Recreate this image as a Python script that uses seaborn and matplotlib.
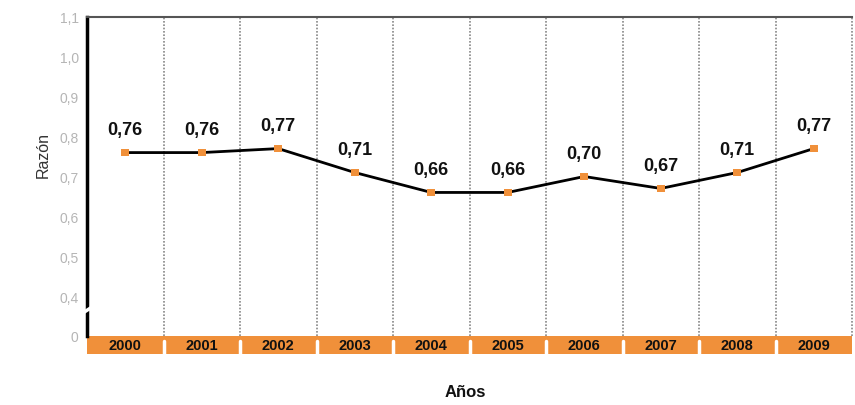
import pandas as pd
import seaborn as sns
import matplotlib.pyplot as plt
from matplotlib.patches import Rectangle

# data
years = ['2000', '2001', '2002', '2003', '2004', '2005', '2006', '2007', '2008', '2009']
ratio = [0.76, 0.76, 0.77, 0.71, 0.66, 0.66, 0.70, 0.67, 0.71, 0.77]
ytick_vals = [0.3, 0.4, 0.5, 0.6, 0.7, 0.8, 0.9, 1.0, 1.1]
ytick_labels = ['0', '0,4', '0,5', '0,6', '0,7', '0,8', '0,9', '1,0', '1,1']

orange = '#F0903A'

sns.set_style('white')
plt.rcParams['font.family'] = ['Liberation Sans', 'DejaVu Sans']

df = pd.DataFrame({'year': years, 'ratio': ratio})

fig = plt.figure(figsize=(8.55, 4.06), dpi=100)
ax = fig.add_axes([87 / 855, 1 - 337 / 406, 765 / 855, 319 / 406])

sns.lineplot(data=df, x='year', y='ratio', color='black', linewidth=2, ax=ax, zorder=3)
sns.scatterplot(data=df, x='year', y='ratio', marker='s', color=orange, s=30,
                edgecolor='none', ax=ax, zorder=4)

# value labels
for i, v in enumerate(ratio):
    ax.annotate(f'{v:.2f}'.replace('.', ','), (i, v), xytext=(0, 16.5),
                textcoords='offset points', ha='center', va='center',
                fontsize=13, fontweight='bold', color='#111111')

ax.set_xlim(-0.5, len(years) - 0.5)
ax.set_ylim(0.3, 1.1)

# dotted separators between years
for b in range(len(years)):
    ax.axvline(b + 0.5, color='#888888', linestyle=(0, (1, 1)), linewidth=1.2,
               zorder=1, clip_on=False)

# orange band with year labels
xt = ax.get_xaxis_transform()
for i in range(len(years)):
    ax.add_patch(Rectangle((i - 0.5, -0.057), 1, 0.057, transform=xt,
                           facecolor=orange, edgecolor='none', clip_on=False, zorder=2))
for i in range(1, len(years)):
    ax.plot([i - 0.5, i - 0.5], [-0.057, -0.015], transform=xt, color='white',
            linewidth=2.5, clip_on=False, zorder=2.5)

ax.set_xticks(range(len(years)))
ax.set_xticklabels(years, fontsize=10.5, fontweight='bold', color='#111111')
ax.tick_params(axis='x', length=0, pad=1.5)
ax.xaxis.set_zorder(5)

ax.set_yticks(ytick_vals)
ax.set_yticklabels(ytick_labels, fontsize=10, color='#b5b5b5')
ax.tick_params(axis='y', direction='in', length=5, width=1.5, color='black', pad=6)

for s in ['right', 'bottom']:
    ax.spines[s].set_visible(False)
ax.spines['left'].set_color('black')
ax.spines['left'].set_linewidth(2.5)
ax.spines['top'].set_color('#555555')
ax.spines['top'].set_linewidth(1.5)

# axis break mark on the left spine
yt = ax.get_yaxis_transform()
ax.plot([-0.006, 0.006], [0.357, 0.372], transform=yt, color='white', linewidth=2.5,
        clip_on=False, zorder=6)

ax.set_xlabel('')
ax.set_ylabel('Razón', fontsize=11.5, color='#333333')
ax.yaxis.set_label_coords(-0.048, 0.57)

fig.text(465 / 855, 1 - 393 / 406, 'Años', ha='center', va='center',
         fontsize=12, fontweight='bold', color='#111111')

plt.savefig('out.png', dpi=100)
